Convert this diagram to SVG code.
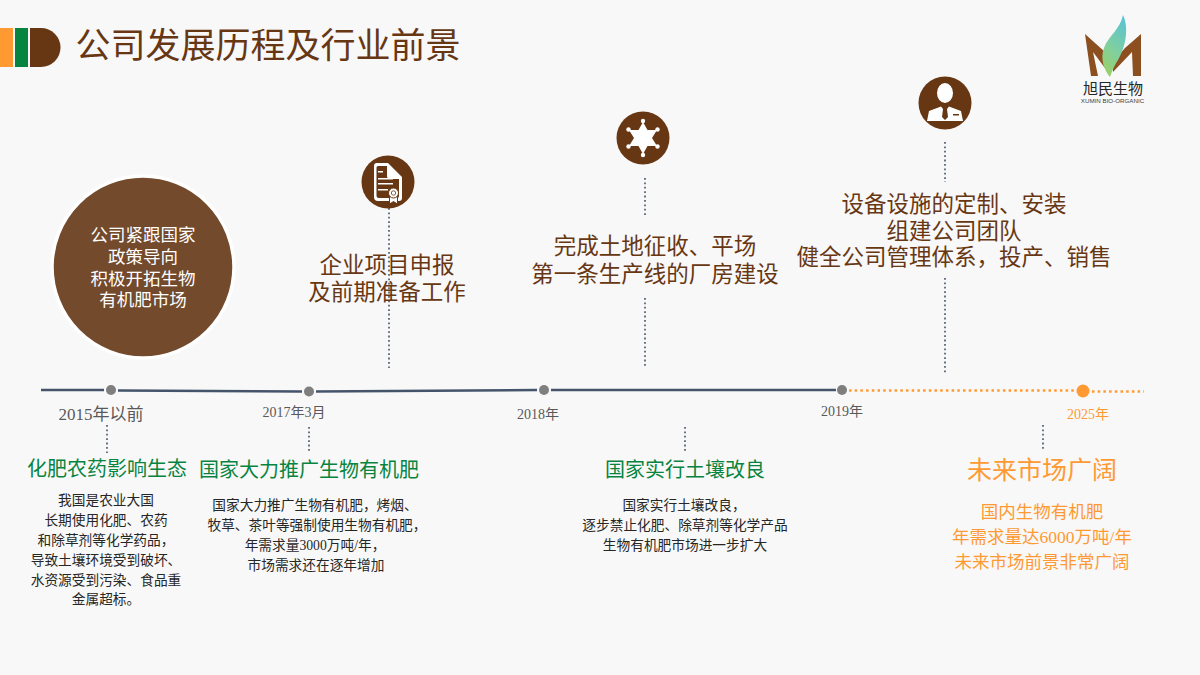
<svg xmlns="http://www.w3.org/2000/svg" width="1200" height="675" viewBox="0 0 1200 675">
<defs>
<linearGradient id="leaf" x1="0.7" y1="0" x2="0.3" y2="1"><stop offset="0" stop-color="#5cc4cf"/><stop offset="0.55" stop-color="#7fcfa0"/><stop offset="1" stop-color="#9ad068"/></linearGradient>
</defs>
<style>
text{font-family:"Liberation Serif","Noto Sans CJK SC",serif;text-anchor:middle}
.tl{fill:none;stroke:#44546a;stroke-width:2.5}
.fut{fill:none;stroke:#ff9a33;stroke-width:2.5;stroke-dasharray:2.5 3.2}
.vd{fill:none;stroke:#44546a;stroke-width:1.6;stroke-dasharray:1.8 2.6}
.dot{fill:#7f7f7f}
.ic{fill:#673714}
.w{fill:#fff}
.date{fill:#595959;font-size:14px}
.h{fill:#068440;font-size:20px}
.b{fill:#262626;font-size:13.700px}
.m{fill:#673714;font-size:22.500px}
.o{fill:#ff9a33}
</style>
<rect width="1200" height="675" fill="#f8f8f8"/>
<g id="title-mark">
<rect x="0" y="28" width="13" height="39" fill="#ff9a33"/>
<rect x="15" y="28" width="13" height="39" fill="#068440"/>
<path d="M30 28h11a19.500 19.500 0 0 1 0 39h-11z" fill="#673714"/>
</g>
<text id="title" x="268" y="58" font-size="35" fill="#673714">公司发展历程及行业前景</text>
<g id="logo">
<path d="M1085 34L1105 52V68L1093 52L1098 76H1091Z" fill="#8b4f20"/>
<path d="M1141 34V76H1133L1132 52L1113 72V62L1125 48Z" fill="#8b4f20"/>
<path d="M1123 15C1130 30 1124 50 1118 60C1113 68 1112 72 1110 77C1104 70 1100 58 1104 48C1108 36 1120 30 1123 15Z" fill="url(#leaf)"/>
<text x="1113" y="94" font-size="15" fill="#262626" style="font-family:'Noto Sans CJK SC',sans-serif">旭民生物</text>
<text x="1112.500" y="103" font-size="6.200" fill="#404040" style="font-family:'Liberation Sans',sans-serif">XUMIN BIO-ORGANIC</text>
</g>
<g id="connectors">
<path class="tl" d="M41 390H104"/><path class="tl" d="M118 390.500L302 391.500"/><path class="tl" d="M316 391.500L537 390"/><path class="tl" d="M551 390H836"/>
<path class="fut" d="M849 390.500H1076"/><path class="fut" d="M1092 391.500H1144"/>
<path class="vd" d="M389 208V368"/><path class="vd" d="M645 178V217"/><path class="vd" d="M645 298V368"/>
<path class="vd" d="M945 142V182"/><path class="vd" d="M945 278V374"/>
<path class="vd" d="M107 425V453"/><path class="vd" d="M309 427V451"/><path class="vd" d="M685 427V451"/><path class="vd" d="M1043 425V450"/>
</g>
<g id="node-2015">
<circle cx="143" cy="267" r="91" fill="#734a2c" stroke="#fff" stroke-width="3.500"/>
<g font-size="17.500" fill="#fff"><text x="143" y="241">公司紧跟国家</text><text x="143" y="263">政策导向</text><text x="143" y="285">积极开拓生物</text><text x="143" y="306">有机肥市场</text></g>
<circle class="dot" cx="111" cy="390" r="5"/>
<text x="101" y="420" font-size="17" fill="#595959">2015年以前</text>
<text class="h" x="107" y="476">化肥农药影响生态</text>
<g class="b"><text x="106" y="505">我国是农业大国</text><text x="106" y="525">长期使用化肥、农药</text><text x="106" y="545">和除草剂等化学药品，</text><text x="106" y="565">导致土壤环境受到破坏、</text><text x="106" y="585">水资源受到污染、食品重</text><text x="106" y="604">金属超标。</text></g>
</g>
<g id="node-2017">
<circle class="dot" cx="309" cy="391.500" r="5"/>
<text class="date" x="294" y="417">2017年3月</text>
<circle class="ic" cx="388" cy="182" r="26.500"/>
<path d="M376 163h12l14 14v21a3 3 0 0 1-3 3h-21a4 4 0 0 1-4-4v-31a3 3 0 0 1 2-3z M378 166a1.500 1.500 0 0 0-1.500 1.500v28a2.500 2.500 0 0 0 2.500 2.500h18a2 2 0 0 0 2-2v-17h-9a3 3 0 0 1-3-3v-10z" class="w" fill-rule="evenodd"/>
<path d="M378 171h5v1.500h-5zM378 178h15v1.500h-15zM378 183h15v1.500h-15zM378 189h10v1.500h-10z" class="w"/>
<path d="M389.500 196v8l4-2.500 4 2.500v-8z" class="w" stroke="#673714" stroke-width="1"/>
<circle cx="393.500" cy="193" r="5" class="w" stroke="#673714" stroke-width="1"/><circle cx="393.500" cy="193" r="2.200" fill="none" stroke="#673714" stroke-width="0.800"/>
<g class="m"><text x="387" y="273">企业项目申报</text><text x="387" y="300">及前期准备工作</text></g>
<text class="h" x="309" y="477">国家大力推广生物有机肥</text>
<g class="b"><text x="315" y="510">国家大力推广生物有机肥，烤烟、</text><text x="317" y="530">牧草、茶叶等强制使用生物有机肥，</text><text x="315" y="550">年需求量3000万吨/年，</text><text x="316" y="570">市场需求还在逐年增加</text></g>
</g>
<g id="node-2018">
<circle class="dot" cx="544" cy="390" r="5"/>
<text class="date" x="538" y="419">2018年</text>
<circle class="ic" cx="643" cy="138" r="26.500"/>
<path class="w" d="M643 122L647.500 130L657 130L652 138L657 146L647.500 146L643 154L638.500 146L629 146L634 138L629 130L638.500 130Z"/>
<circle class="w" cx="643" cy="121" r="2.200"/><circle class="w" cx="643" cy="155" r="2.200"/><circle class="w" cx="628.500" cy="129.500" r="2.200"/><circle class="w" cx="657.500" cy="129.500" r="2.200"/><circle class="w" cx="628.500" cy="146.500" r="2.200"/><circle class="w" cx="657.500" cy="146.500" r="2.200"/>
<g class="m"><text x="655" y="254">完成土地征收、平场</text><text x="655" y="282">第一条生产线的厂房建设</text></g>
<text class="h" x="685" y="477">国家实行土壤改良</text>
<g class="b"><text x="684" y="510">国家实行土壤改良，</text><text x="685" y="530">逐步禁止化肥、除草剂等化学产品</text><text x="685" y="550">生物有机肥市场进一步扩大</text></g>
</g>
<g id="node-2019">
<circle class="dot" cx="842" cy="390" r="5"/>
<text class="date" x="842" y="416">2019年</text>
<circle class="ic" cx="945" cy="103" r="26.500"/>
<ellipse class="w" cx="945" cy="93" rx="8" ry="10"/>
<path class="w" d="M927 121L929 111L941 106.500L943 109L942 117L945 120L948 117L947 109L949 106.500L961 111L963 121Z"/>
<path class="ic" d="M953 114h6v1.500h-6z"/>
<g class="m"><text x="954" y="212">设备设施的定制、安装</text><text x="954" y="239">组建公司团队</text><text x="954" y="265">健全公司管理体系，投产、销售</text></g>
</g>
<g id="node-2025">
<circle class="o" cx="1083" cy="391" r="6.500"/>
<text class="o" x="1088" y="419" font-size="14">2025年</text>
<text class="o" x="1042" y="479" font-size="25">未来市场广阔</text>
<g class="o" font-size="17.500"><text x="1042" y="518">国内生物有机肥</text><text x="1042" y="543">年需求量达6000万吨/年</text><text x="1042" y="568">未来市场前景非常广阔</text></g>
</g>
</svg>
